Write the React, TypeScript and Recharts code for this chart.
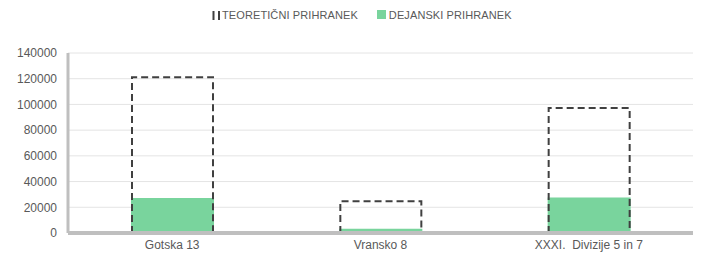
import React from "react";
import { BarChart, Bar, XAxis, YAxis, CartesianGrid } from "recharts";

const categories = ["Gotska 13", "Vransko 8", "XXXI.\u00a0 Divizije 5 in 7"];
const teoreticni = [122000, 25500, 98000];
const dejanski = [27200, 3300, 27600];
const yTicks = [0, 20000, 40000, 60000, 80000, 100000, 120000, 140000];
const seriesNames = ["TEORETIČNI PRIHRANEK", "DEJANSKI PRIHRANEK"];

const data = categories.map((c, i) => ({
  name: c,
  teoreticni: teoreticni[i],
  dejanski: dejanski[i],
}));

const DashedShape = (props: any) => {
  const { x, y, width, height } = props;
  if (width == null || height == null) return null;
  const d = `M${x + 1},${y + height} L${x + 1},${y + 1} L${x + width - 1},${y + 1} L${x + width - 1},${y + height}`;
  return <path d={d} fill="none" stroke="#404040" strokeWidth={2} strokeDasharray="7 4" />;
};

const font = "'Liberation Sans', Arial, sans-serif";

export default function App() {
  return (
    <div style={{ position: "absolute", left: 0, top: 0, width: 710, height: 272, background: "#fff" }}>
      <div
        style={{
          position: "absolute",
          left: 212,
          top: 9,
          display: "flex",
          alignItems: "center",
          fontFamily: font,
          fontSize: 11,
          letterSpacing: 0.1,
          color: "#595959",
          whiteSpace: "nowrap",
        }}
      >
        <svg width={9} height={11} style={{ marginRight: 1 }}>
          <path d="M1.5,1 L1.5,10 M7,1 L7,10" stroke="#404040" strokeWidth={2} fill="none" />
        </svg>
        <span>{seriesNames[0]}</span>
        <svg width={10} height={10} style={{ marginLeft: 19, marginRight: 2 }}>
          <rect x={0} y={0} width={9} height={9} fill="#79d49d" />
        </svg>
        <span>{seriesNames[1]}</span>
      </div>
      <BarChart
        width={710}
        height={272}
        data={data}
        margin={{ top: 53, right: 17, bottom: 9, left: 0 }}
        barSize={83}
        barGap={-83}
      >
        <CartesianGrid horizontal vertical={false} stroke="#e4e4e4" />
        <YAxis
          width={68}
          domain={[0, 140000]}
          ticks={yTicks}
          interval={0}
          tickLine={false}
          tickSize={0}
          tickMargin={11}
          axisLine={{ stroke: "#bfbfbf", strokeWidth: 3 }}
          tick={{ fill: "#595959", fontSize: 12, fontFamily: font }}
        />
        <XAxis
          dataKey="name"
          height={30}
          tickLine={false}
          tickSize={0}
          tickMargin={7}
          axisLine={{ stroke: "#bfbfbf", strokeWidth: 4 }}
          tick={{ fill: "#595959", fontSize: 12, fontFamily: font }}
        />
        <Bar dataKey="dejanski" fill="#79d49d" isAnimationActive={false} />
        <Bar dataKey="teoreticni" shape={DashedShape} isAnimationActive={false} />
      </BarChart>
    </div>
  );
}
